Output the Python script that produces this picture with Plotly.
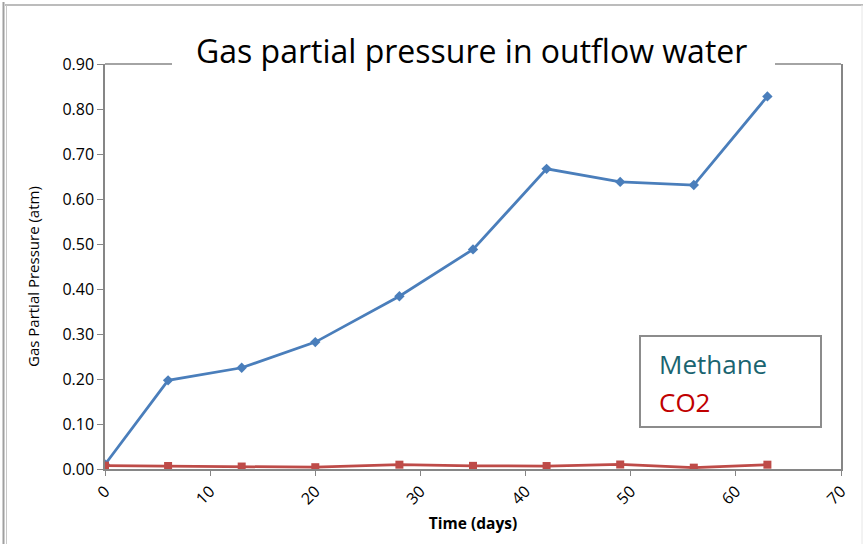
import plotly.graph_objects as go

days = [0, 6, 13, 20, 28, 35, 42, 49, 56, 63]
methane = [0.010, 0.197, 0.225, 0.282, 0.384, 0.488, 0.667, 0.638, 0.631, 0.828]
co2 = [0.0075, 0.0067, 0.0055, 0.004, 0.0096, 0.007, 0.0066, 0.010, 0.003, 0.0096]

x_ticks = [0, 10, 20, 30, 40, 50, 60, 70]
y_ticks = [0.0, 0.1, 0.2, 0.3, 0.4, 0.5, 0.6, 0.7, 0.8, 0.9]

W, H = 865, 544
L, R, T, B = 105, 841, 64, 469

def px(x):
    return (x - L) / (R - L)

def py(y):
    return (B - y) / (B - T)

fig = go.Figure()
fig.add_trace(go.Scatter(x=days, y=methane, mode="lines+markers", name="Methane",
                         line=dict(color="#4A7EBB", width=2.75),
                         marker=dict(symbol="diamond", size=8, color="#4A7EBB")))
fig.add_trace(go.Scatter(x=days, y=co2, mode="lines+markers", name="CO2",
                         line=dict(color="#BE4B48", width=2.75),
                         marker=dict(symbol="square", size=8, color="#BE4B48")))

font_family = "Open Sans, Noto Sans, sans-serif"
axis_col = "#868686"

fig.update_layout(
    width=W, height=H,
    margin=dict(l=L, r=W - R, t=T, b=H - B),
    paper_bgcolor="white", plot_bgcolor="white",
    showlegend=False,
    font=dict(family=font_family, color="black"),
    xaxis=dict(range=[0, 70], tickvals=x_ticks, ticktext=[str(v) for v in x_ticks],
               tickangle=-45, showgrid=False, zeroline=False,
               showline=True, linecolor=axis_col, linewidth=1.5, mirror=False,
               ticks="outside", ticklen=5, tickcolor=axis_col,
               tickfont=dict(size=16, family=font_family),
               title=dict(text="<b>Time (days)</b>", font=dict(size=15.5, family=font_family), standoff=10)),
    yaxis=dict(range=[0, 0.9], tickvals=y_ticks, ticktext=["%.2f" % v for v in y_ticks],
               showgrid=False, zeroline=False,
               showline=True, linecolor=axis_col, linewidth=1.5, mirror=True,
               ticks="outside", ticklen=6, tickcolor=axis_col,
               tickfont=dict(size=16, family=font_family)),
)

annotations = [
    dict(text="Gas partial pressure in outflow water", x=px(471), y=py(50),
         xref="paper", yref="paper", showarrow=False, xanchor="center", yanchor="middle",
         font=dict(size=32, family=font_family, color="black")),
    dict(text="Gas Partial Pressure (atm)", x=px(33), y=py(277),
         xref="paper", yref="paper", showarrow=False, textangle=-90,
         xanchor="center", yanchor="middle",
         font=dict(size=15, family=font_family, color="black")),
    dict(text="Methane", x=px(657), y=py(364), xref="paper", yref="paper",
         showarrow=False, xanchor="left", yanchor="middle",
         font=dict(size=26, family=font_family, color="#1A6470")),
    dict(text="CO2", x=px(657), y=py(402), xref="paper", yref="paper",
         showarrow=False, xanchor="left", yanchor="middle",
         font=dict(size=26, family=font_family, color="#C00000")),
]
fig.update_layout(annotations=annotations)

shapes = [
    # top border of plot area, broken by the title
    dict(type="line", xref="paper", yref="paper", x0=0, x1=px(172), y0=1, y1=1,
         line=dict(color=axis_col, width=1.5)),
    dict(type="line", xref="paper", yref="paper", x0=px(775), x1=1, y0=1, y1=1,
         line=dict(color=axis_col, width=1.5)),
    # legend box
    dict(type="rect", xref="paper", yref="paper", x0=px(640), x1=px(821), y0=py(427), y1=py(336),
         line=dict(color="#8C8C8C", width=2), fillcolor="white", layer="above"),
    # outer frame
    dict(type="line", xref="paper", yref="paper", x0=px(5), x1=px(863), y0=py(5), y1=py(5),
         line=dict(color="#A6A6A6", width=1.5)),
    dict(type="line", xref="paper", yref="paper", x0=px(3.5), x1=px(3.5), y0=py(2), y1=py(544),
         line=dict(color="#A0A0A0", width=2)),
    dict(type="line", xref="paper", yref="paper", x0=px(6.5), x1=px(6.5), y0=py(5), y1=py(544),
         line=dict(color="#C8C8C8", width=1)),
    dict(type="line", xref="paper", yref="paper", x0=px(862), x1=px(862), y0=py(5), y1=py(544),
         line=dict(color="#E6E6E6", width=1)),
]
fig.update_layout(shapes=shapes)

fig.write_html("out.html", config={"displayModeBar": False},
               post_script="document.body.style.margin='0';document.body.style.overflow='hidden';")
